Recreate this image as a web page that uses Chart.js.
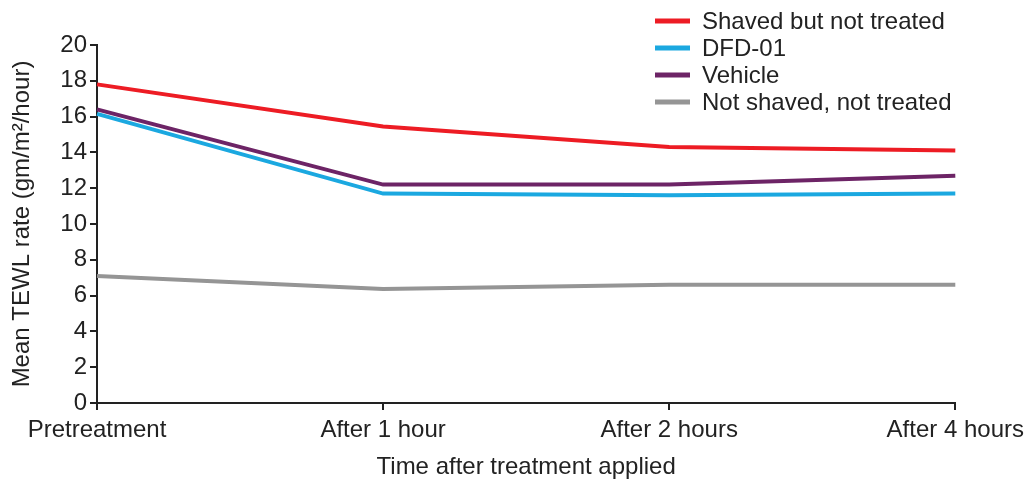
<!DOCTYPE html>
<html lang="en">
<head>
    <meta charset="UTF-8">
    <title>TEWL rate</title>
    <script src="https://cdn.jsdelivr.net/npm/chart.js@4"></script>
    <style>
        body { margin: 0; background: #fff; }
        #wrap { width: 1030px; height: 482px; }
    </style>
</head>
<body>
    <div id="wrap"><canvas id="myChart"></canvas></div>
</body>
<script>
    var labels = ['Pretreatment', 'After 1 hour', 'After 2 hours', 'After 4 hours'];

    var shaved = [17.8, 15.45, 14.3, 14.1];
    var dfd01 = [16.15, 11.7, 11.6, 11.7];
    var vehicle = [16.4, 12.2, 12.2, 12.7];
    var notShaved = [7.1, 6.37, 6.6, 6.6];

    var yTicks = [0, 2, 4, 6, 8, 10, 12, 14, 16, 18, 20];

    var font = 'Liberation Sans, Arial, Helvetica, sans-serif';

    // legend as a column in the top right corner
    var legendPlugin = {
        id: 'colLegend',
        afterDraw: function (chart) {
            var ctx = chart.ctx;
            ctx.save();
            ctx.font = '24px ' + font;
            ctx.textBaseline = 'middle';
            chart.data.datasets.forEach(function (ds, i) {
                var y = 21 + i * 27;
                ctx.strokeStyle = ds.borderColor;
                ctx.lineWidth = 5;
                ctx.beginPath();
                ctx.moveTo(655, y);
                ctx.lineTo(690, y);
                ctx.stroke();
                ctx.fillStyle = '#222';
                ctx.fillText(ds.label, 702, y + 1);
            });
            ctx.restore();
        }
    };

    var ctx = document.getElementById('myChart').getContext('2d');
    var chart = new Chart(ctx, {
        type: 'line',
        data: {
            labels: labels,
            datasets: [
                { label: 'Shaved but not treated', data: shaved, borderColor: '#ed1c24' },
                { label: 'DFD-01', data: dfd01, borderColor: '#1ba8e0' },
                { label: 'Vehicle', data: vehicle, borderColor: '#6d2466' },
                { label: 'Not shaved, not treated', data: notShaved, borderColor: '#959595' }
            ]
        },
        options: {
            responsive: true,
            maintainAspectRatio: false,
            animation: false,
            layout: { padding: { top: 45, right: 71, left: 0, bottom: 0 } },
            elements: {
                line: { borderWidth: 4, tension: 0 },
                point: { radius: 0 }
            },
            plugins: { legend: { display: false }, tooltip: { enabled: false } },
            scales: {
                x: {
                    offset: false,
                    afterFit: function (s) { s.height = 79; },
                    border: { color: '#222', width: 2 },
                    grid: { drawOnChartArea: false, color: '#222', lineWidth: 2, tickLength: 7 },
                    ticks: { color: '#222', font: { family: font, size: 24 }, padding: 6, maxRotation: 0 },
                    title: {
                        display: true, text: 'Time after treatment applied', color: '#222',
                        font: { family: font, size: 24 }, padding: { top: 0, bottom: 0 }
                    }
                },
                y: {
                    min: 0, max: 20,
                    afterFit: function (s) { s.width = 97; },
                    afterBuildTicks: function (s) { s.ticks = yTicks.map(function (v) { return { value: v }; }); },
                    border: { color: '#222', width: 2 },
                    grid: { drawOnChartArea: false, color: '#222', lineWidth: 2, tickLength: 7 },
                    ticks: { color: '#222', font: { family: font, size: 24 }, padding: 3 },
                    title: {
                        display: true, text: 'Mean TEWL rate (gm/m\u00b2/hour)', color: '#222',
                        font: { family: font, size: 24 }, padding: { top: 8, bottom: 0 }
                    }
                }
            }
        },
        plugins: [legendPlugin]
    });
</script>
</html>
